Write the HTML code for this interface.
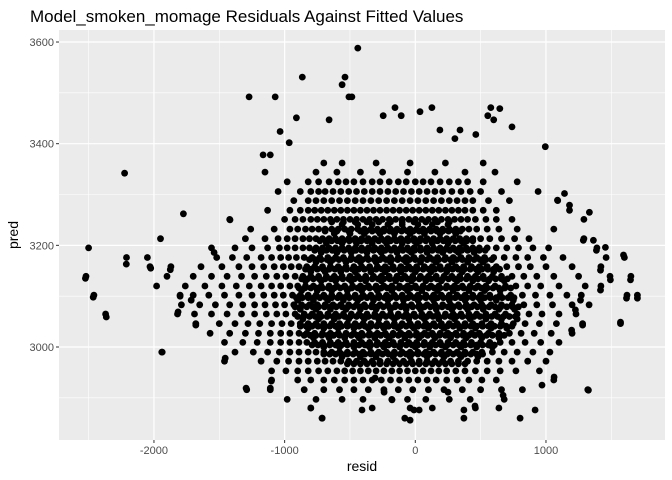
<!DOCTYPE html>
<html><head><meta charset="utf-8"><style>
body{margin:0;background:#fff;}
svg{display:block;font-family:"Liberation Sans",sans-serif;}
</style></head><body>
<svg id="chart" width="672" height="480">
<text x="30" y="22" font-size="17" fill="#000">Model_smoken_momage Residuals Against Fitted Values</text>
<rect x="59" y="30" width="606" height="410" fill="#EBEBEB"/>
<g id="grid"></g>
<g id="pts"></g>
<g id="axes"></g>
<text x="362" y="471" font-size="14" text-anchor="middle" fill="#000">resid</text>
<text x="18" y="235" font-size="14" text-anchor="middle" fill="#000" transform="rotate(-90 18 235)">pred</text>
</svg>
<script>
const xTicks=[-2000,-1000,0,1000];
const yTicks=[3000,3200,3400,3600];
const xMinor=[-2500,-1500,-500,500,1500];
const yMinor=[2900,3100,3300,3500];
const predLevels=[3362,3344,3325,3306,3288,3269,3251,3232,3213,3195,3176,3158,3139,3120,3102,3083,3065,3046,3027,3009,2990,2972,2953,2935,2916,2897,2880,2860];
const residRows=[
[-700,-560,-300,-40,230,520],
[-1150,-760,-600,-420,-250,-60,150,380,610],
[-980,-820,-740,-660,-590,-530,-470,-400,-330,-270,-200,-130,-70,0,60,120,190,260,330,400,520,780],
[-1050,-880,-800,-740,-690,-630,-570,-510,-450,-390,-330,-270,-210,-150,-90,-30,30,90,150,210,280,350,420,500,660,940],
[-930,-820,-760,-700,-640,-580,-520,-460,-400,-340,-280,-220,-160,-100,-40,20,80,140,200,260,320,380,440,560,720,1090],
[-1130,-960,-880,-820,-770,-720,-670,-620,-570,-520,-470,-420,-370,-320,-270,-220,-170,-120,-70,-20,30,80,130,180,230,280,330,380,440,520,620,1180],
[-1420,-1000,-920,-860,-800,-750,-700,-650,-600,-550,-500,-450,-400,-350,-300,-250,-200,-150,-100,-50,0,50,100,150,200,250,300,350,400,460,540,620,740,1290],
[-1260,-1080,-960,-900,-840,-790,-740,-690,-640,-590,-540,-490,-440,-390,-340,-290,-240,-190,-140,-90,-40,10,60,110,160,210,260,310,360,410,470,550,640,780,1060],
[-1950,-1300,-1150,-1050,-980,-920,-860,-810,-760,-710,-660,-610,-560,-510,-460,-410,-360,-310,-260,-210,-160,-110,-60,-10,40,90,140,190,240,290,340,390,440,500,570,660,760,870,1290],
[-2500,-1560,-1380,-1250,-1130,-1040,-980,-920,-860,-810,-760,-710,-660,-610,-560,-510,-460,-410,-360,-310,-260,-210,-160,-110,-60,-10,40,90,140,190,240,290,340,390,440,490,550,620,700,790,900,1020,1390],
[-2210,-2050,-1520,-1400,-1290,-1180,-1100,-1030,-970,-910,-850,-790,-730,-670,-610,-550,-490,-430,-370,-310,-250,-190,-130,-70,-10,50,110,170,230,290,350,410,470,530,600,680,770,860,980,1130,1460,1600],
[-2030,-1870,-1640,-1480,-1350,-1250,-1160,-1080,-1010,-950,-890,-830,-770,-710,-650,-590,-530,-470,-410,-350,-290,-230,-170,-110,-50,10,70,130,190,250,310,370,430,490,550,620,700,790,880,1000,1200,1420],
[-2520,-1900,-1700,-1560,-1440,-1330,-1230,-1140,-1060,-990,-920,-860,-800,-740,-680,-620,-560,-500,-440,-380,-320,-260,-200,-140,-80,-20,40,100,160,220,280,340,400,460,520,590,660,740,830,930,1060,1250,1490,1650],
[-1980,-1760,-1610,-1480,-1370,-1270,-1180,-1100,-1030,-960,-900,-840,-780,-720,-660,-600,-540,-480,-420,-360,-300,-240,-180,-120,-60,0,60,120,180,240,300,360,420,480,540,610,690,770,860,960,1100,1300,1420],
[-2460,-1800,-1700,-1580,-1460,-1350,-1250,-1160,-1080,-1010,-940,-880,-820,-760,-700,-640,-580,-520,-460,-400,-340,-280,-220,-160,-100,-40,20,80,140,200,260,320,380,440,500,570,650,730,820,920,1030,1160,1270,1620,1700],
[-1790,-1650,-1530,-1420,-1320,-1230,-1150,-1070,-1000,-930,-870,-810,-750,-690,-630,-570,-510,-450,-390,-330,-270,-210,-150,-90,-30,30,90,150,210,270,330,390,450,510,580,660,740,830,930,1050,1200,1330],
[-2370,-1820,-1690,-1560,-1440,-1330,-1230,-1140,-1060,-990,-920,-850,-790,-730,-670,-610,-550,-490,-430,-370,-310,-250,-190,-130,-70,-10,50,110,170,230,290,350,410,470,540,610,690,780,870,970,1100,1230],
[-1680,-1500,-1380,-1280,-1190,-1100,-1020,-950,-880,-820,-760,-700,-640,-580,-520,-460,-400,-340,-280,-220,-160,-100,-40,20,80,140,200,260,320,380,440,510,580,660,750,840,950,1080,1280,1570],
[-1570,-1420,-1300,-1200,-1110,-1030,-960,-890,-830,-770,-710,-650,-590,-530,-470,-410,-350,-290,-230,-170,-110,-50,10,70,130,190,250,310,370,430,490,560,640,720,810,910,1040,1200],
[-1460,-1320,-1210,-1110,-1030,-960,-890,-830,-770,-710,-650,-590,-530,-470,-410,-350,-290,-230,-170,-110,-50,10,70,130,190,250,310,370,430,500,570,650,740,840,960,1100],
[-1940,-1380,-1240,-1130,-1040,-960,-890,-820,-760,-700,-640,-580,-520,-460,-400,-340,-280,-220,-160,-100,-40,20,80,140,200,260,320,380,440,510,590,680,780,900,1030],
[-1460,-1180,-1060,-970,-890,-820,-750,-690,-630,-570,-510,-450,-390,-330,-270,-210,-150,-90,-30,30,90,150,210,270,330,400,470,550,640,740,860,1000],
[-1100,-990,-900,-820,-740,-670,-600,-540,-480,-420,-360,-300,-240,-180,-120,-60,0,60,120,180,240,310,380,460,550,650,770,950],
[-1100,-900,-800,-700,-620,-540,-470,-400,-330,-260,-190,-120,-50,20,90,160,240,320,410,510,620,1060],
[-1290,-1110,-850,-700,-580,-470,-360,-240,-130,-20,100,220,360,500,660,820,1320],
[-980,-760,-560,-400,-180,-60,80,260,420,680],
[-800,-330,-40,130,460,640],
[-713,-80,372,802]
];
const halfLevels=[2981,3000,3018,3037,3055,3074,3092,3111,3130,3148,3167,3186,3204,3223,3241];
const halfRows=[
[-560,-420,-300,-170,-40,90,220,350,480],
[-700,-580,-470,-350,-240,-120,0,110,230,350,470,590],
[-780,-660,-540,-430,-310,-200,-80,30,150,270,390,510,640],
[-820,-700,-590,-470,-360,-240,-130,-10,100,220,340,460,580,700],
[-860,-740,-620,-510,-390,-280,-160,-50,70,180,300,420,540,660,780],
[-880,-760,-650,-530,-420,-300,-190,-70,40,160,280,400,520,640,760],
[-900,-780,-670,-550,-440,-320,-210,-90,20,140,260,380,500,620,750],
[-870,-750,-640,-520,-410,-290,-180,-60,50,170,290,410,530,650],
[-840,-720,-610,-490,-380,-260,-150,-30,80,200,320,440,560,680],
[-800,-690,-570,-460,-340,-230,-110,0,120,240,360,480,600],
[-760,-650,-530,-420,-300,-190,-70,40,160,280,400,520],
[-720,-600,-490,-370,-260,-140,-30,90,210,330,450],
[-680,-560,-450,-330,-220,-100,10,130,250,370],
[-620,-500,-390,-270,-160,-40,70,190,310],
[-560,-440,-330,-210,-100,20,130,250]
];
const fillLevels=[2967,2986,3004,3023,3041,3060,3079,3097,3116,3134,3153,3172,3190,3209,3228,3246];
const fillRows=[
[-520,-470,-420,-370,-320,-270,-220,-170,-120,-70,-20,30,80,130,180,230,280,330,380],
[-700,-655,-610,-565,-520,-475,-430,-385,-340,-295,-250,-205,-160,-115,-70,-25,20,65,110,155,200,245,290,335,380,425,470,515],
[-790,-745,-700,-655,-610,-565,-520,-475,-430,-385,-340,-295,-250,-205,-160,-115,-70,-25,20,65,110,155,200,245,290,335,380,425,470,515,560,605],
[-850,-805,-760,-715,-670,-625,-580,-535,-490,-445,-400,-355,-310,-265,-220,-175,-130,-85,-40,5,50,95,140,185,230,275,320,365,410,455,500,545,590,635,680],
[-880,-835,-790,-745,-700,-655,-610,-565,-520,-475,-430,-385,-340,-295,-250,-205,-160,-115,-70,-25,20,65,110,155,200,245,290,335,380,425,470,515,560,605,650,695,740],
[-900,-855,-810,-765,-720,-675,-630,-585,-540,-495,-450,-405,-360,-315,-270,-225,-180,-135,-90,-45,0,45,90,135,180,225,270,315,360,405,450,495,540,585,630,675,720,765],
[-920,-875,-830,-785,-740,-695,-650,-605,-560,-515,-470,-425,-380,-335,-290,-245,-200,-155,-110,-65,-20,25,70,115,160,205,250,295,340,385,430,475,520,565,610,655,700,745,790],
[-910,-865,-820,-775,-730,-685,-640,-595,-550,-505,-460,-415,-370,-325,-280,-235,-190,-145,-100,-55,-10,35,80,125,170,215,260,305,350,395,440,485,530,575,620,665,710,755],
[-890,-845,-800,-755,-710,-665,-620,-575,-530,-485,-440,-395,-350,-305,-260,-215,-170,-125,-80,-35,10,55,100,145,190,235,280,325,370,415,460,505,550,595,640,685,730],
[-870,-825,-780,-735,-690,-645,-600,-555,-510,-465,-420,-375,-330,-285,-240,-195,-150,-105,-60,-15,30,75,120,165,210,255,300,345,390,435,480,525,570,615,660,705],
[-840,-795,-750,-705,-660,-615,-570,-525,-480,-435,-390,-345,-300,-255,-210,-165,-120,-75,-30,15,60,105,150,195,240,285,330,375,420,465,510,555,600,645],
[-810,-765,-720,-675,-630,-585,-540,-495,-450,-405,-360,-315,-270,-225,-180,-135,-90,-45,0,45,90,135,180,225,270,315,360,405,450,495,540,585],
[-770,-725,-680,-635,-590,-545,-500,-455,-410,-365,-320,-275,-230,-185,-140,-95,-50,-5,40,85,130,175,220,265,310,355,400,445,490,535],
[-730,-685,-640,-595,-550,-505,-460,-415,-370,-325,-280,-235,-190,-145,-100,-55,-10,35,80,125,170,215,260,305,350,395,440],
[-690,-600,-510,-420,-375,-330,-285,-240,-195,-150,-105,-60,-15,30,75,120,165,210,255,300,345],
[-640,-550,-460,-370,-280,-190,-100,-10,80,170,260]
];
const outResid=[-2525,-2465,-2365,-2225,-2212,-2025,-1937,-1775,-1875,-1800,-1715,-1815,-1680,-1540,-1455,-1418,-1295,-1272,-1110,-1102,-1072,-1165,-1110,-965,-910,-1035,-865,-800,-713,-660,-560,-538,-508,-485,-440,-408,-308,-239,-178,-40,-10,30,250,372,457,672,970,1062,1325,917,1196,1570,1616,1647,1700,1493,1417,1280,1225,1264,1417,1386,1286,1332,1363,1180,1142,1088,995,1455,1593,740,578,600,342,463,188,127,36,-108,-246,-155,303,555,647];
const outPred=[3135,3098,3059,3342,3163,3155,2990,3262,3152,3100,3092,3069,3043,3186,2978,3250,2919,3492,2919,2933,3492,3378,3378,3402,3451,3424,3531,2880,2860,3447,3516,3531,3492,3492,3588,2876,2939,2911,2896,2856,2876,2876,2911,2876,2884,2905,2925,2941,2915,2876,3033,3049,3096,3132,3096,3132,3112,3043,3073,3092,3151,3190,3210,3265,3210,3279,3302,3289,3394,3196,3181,3433,3471,3447,3427,3418,3427,3471,3463,3455,3455,3471,3410,3455,3469];

const NS='http://www.w3.org/2000/svg';
const L=59,R=665,T=30,B=440;
function xs(v){return 415.3+(v)*0.13067;}
function ys(v){return 347-(v-3000)*0.5083;}
const grid=document.getElementById('grid');
function line(x1,y1,x2,y2,w,name){const l=document.createElementNS(NS,'line');l.setAttribute('x1',x1);l.setAttribute('y1',y1);l.setAttribute('x2',x2);l.setAttribute('y2',y2);l.setAttribute('stroke','#fff');l.setAttribute('stroke-width',w);


return l;}
xMinor.forEach(v=>grid.appendChild(line(xs(v),T,xs(v),B,0.6,'x-minor-grid')));
yMinor.forEach(v=>grid.appendChild(line(L,ys(v),R,ys(v),0.6,'y-minor-grid')));
xTicks.forEach(v=>grid.appendChild(line(xs(v),T,xs(v),B,1.2,'x-major-grid')));
yTicks.forEach(v=>grid.appendChild(line(L,ys(v),R,ys(v),1.2,'y-major-grid')));
const axes=document.getElementById('axes');
xTicks.forEach(v=>{const t=line(xs(v),B,xs(v),B+3,1,'x-tick');t.setAttribute('stroke','#333');axes.appendChild(t);
const s=document.createElementNS(NS,'text');s.setAttribute('x',xs(v));s.setAttribute('y',B+14);s.setAttribute('font-size','11');s.setAttribute('fill','#4d4d4d');s.setAttribute('text-anchor','middle');s.textContent=v;


axes.appendChild(s);});
yTicks.forEach(v=>{const t=line(L-3,ys(v),L,ys(v),1,'y-tick');t.setAttribute('stroke','#333');axes.appendChild(t);
const s=document.createElementNS(NS,'text');s.setAttribute('x',L-5);s.setAttribute('y',ys(v)+4);s.setAttribute('font-size','11');s.setAttribute('fill','#4d4d4d');s.setAttribute('text-anchor','end');s.textContent=v;


axes.appendChild(s);});
const pts=document.getElementById('pts');
function dot(r,p){const c=document.createElementNS(NS,'circle');c.setAttribute('cx',xs(r).toFixed(1));c.setAttribute('cy',ys(p).toFixed(1));c.setAttribute('r','3.4');c.setAttribute('fill','#000');


pts.appendChild(c);}
predLevels.forEach((p,i)=>residRows[i].forEach(r=>dot(r,p)));
halfLevels.forEach((p,i)=>halfRows[i].forEach(r=>dot(r,p)));
fillLevels.forEach((p,i)=>fillRows[i].forEach(r=>dot(r,p)));
outResid.forEach((r,i)=>dot(r,outPred[i]));
</script>
</body></html>
